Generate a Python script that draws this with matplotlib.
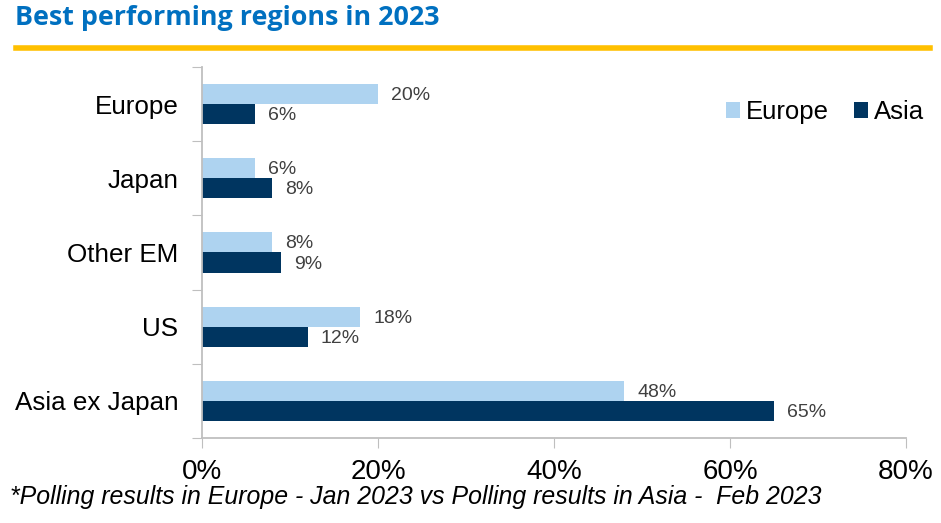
import matplotlib.pyplot as plt
import numpy as np

# data
regions = ['Europe', 'Japan', 'Other EM', 'US', 'Asia ex Japan']
europe = [20, 6, 8, 18, 48]
asia = [6, 8, 9, 12, 65]
xticks = [0, 20, 40, 60, 80]

light = '#AED3F0'
dark = '#003560'
grey = '#404040'

plt.rcParams['font.family'] = ['Liberation Sans', 'DejaVu Sans']

fig = plt.figure(figsize=(9.41, 5.23), dpi=100)
ax = fig.add_axes([202 / 941, 1 - 438 / 523, (906 - 202) / 941, (438 - 67) / 523])

y = np.arange(len(regions))
h = 0.27
ax.barh(y - h / 2, europe, height=h, color=light, label='Europe')
ax.barh(y + h / 2, asia, height=h, color=dark, label='Asia')

for i in range(len(regions)):
    ax.text(europe[i] + 1.5, y[i] - h / 2 + 0.02, f'{europe[i]}%', va='center', ha='left',
            fontsize=14, color=grey)
    ax.text(asia[i] + 1.5, y[i] + h / 2 + 0.02, f'{asia[i]}%', va='center', ha='left',
            fontsize=14, color=grey)

ax.set_ylim(len(regions) - 0.5, -0.5)
ax.set_xlim(0, 80)
ax.set_yticks(np.arange(-0.5, len(regions), 1))
ax.set_yticklabels([])
ax.set_yticks(y, minor=True)
ax.set_yticklabels(regions, minor=True, fontsize=18.7)
ax.tick_params(axis='y', which='minor', length=0, pad=17)
ax.tick_params(axis='y', which='major', length=7, color='#BFBFBF', direction='out')
ax.set_xticks(xticks)
ax.set_xticklabels([f'{t}%' for t in xticks], fontsize=20)
ax.tick_params(axis='x', length=7, color='#BFBFBF', pad=8)

for s in ['top', 'right']:
    ax.spines[s].set_visible(False)
for s in ['left', 'bottom']:
    ax.spines[s].set_color('#BFBFBF')
    ax.spines[s].set_linewidth(1.3)

ax.legend(loc='upper right', bbox_to_anchor=(1.058, 0.973), ncol=2, frameon=False,
          fontsize=18.5, handlelength=0.55, handleheight=0.55, handletextpad=0.2,
          columnspacing=1.0)

fig.text(15 / 941, 1 - 18 / 523, 'Best performing regions in 2023', fontsize=19.4,
         fontweight='bold', color='#0070C0', va='center', ha='left', family='Open Sans')
fig.add_artist(plt.Line2D([16 / 941, 930 / 941], [1 - 48 / 523, 1 - 48 / 523],
                          color='#FFC000', linewidth=4))
fig.text(10 / 941, 1 - 497 / 523,
         '*Polling results in Europe - Jan 2023 vs Polling results in Asia -  Feb 2023',
         fontsize=17.9, style='italic', va='center', ha='left')

fig.savefig('out.png', dpi=100)
